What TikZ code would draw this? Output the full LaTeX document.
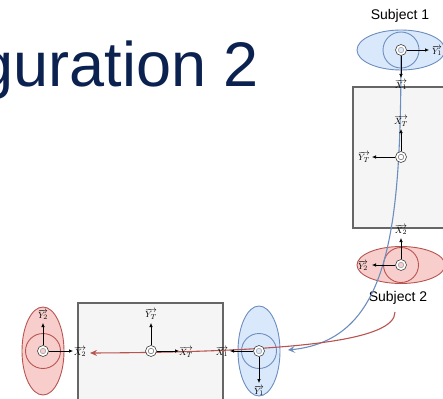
\documentclass[tikz,border=0pt]{standalone}
\usepackage{fontspec}
\newfontfamily\arialf{Liberation Sans}
\usetikzlibrary{shapes.geometric,arrows.meta}
\definecolor{bfill}{HTML}{DAE8FC}
\definecolor{bline}{HTML}{6C8EBF}
\definecolor{rfill}{HTML}{F8CECC}
\definecolor{rline}{HTML}{B85450}
\definecolor{boxfill}{HTML}{F5F5F5}
\definecolor{boxline}{HTML}{666666}
\definecolor{navy}{HTML}{0B2150}
\begin{document}
\begin{tikzpicture}[x=1pt,y=-1pt,
  boxst/.style={draw=boxline,fill=boxfill,line width=1.1pt},
  subjb/.style={ellipse,draw=bline,fill=bfill,line width=0.9pt,inner sep=0},
  subjr/.style={ellipse,draw=rline,fill=rfill,line width=0.9pt,inner sep=0},
  ringb/.style={circle,draw=bline,line width=0.9pt,inner sep=0},
  ringr/.style={circle,draw=rline,line width=0.9pt,inner sep=0},
  mk/.style={circle,draw=black!75,fill=white,minimum size=11pt,inner sep=0,line width=0.6pt},
  dotb/.style={circle,draw=black!40,fill=bfill,minimum size=5.5pt,inner sep=0,line width=0.5pt},
  dotr/.style={circle,draw=black!40,fill=rfill,minimum size=5.5pt,inner sep=0,line width=0.5pt},
  dotw/.style={circle,draw=black!60,fill=white,minimum size=5.5pt,inner sep=0,line width=0.5pt},
  ax/.style={-{Latex[length=4pt,width=3.5pt]},line width=0.6pt,black},
  lbl/.style={font=\fontsize{9.5}{10}\selectfont,inner sep=0},
  subjlbl/.style={font=\arialf\fontsize{14}{16}\selectfont,inner sep=0},
  bcurve/.style={draw=bline,line width=1.1pt,-{Stealth[length=7pt,width=7pt,inset=3pt]}},
  rcurve/.style={draw=rline,line width=1.1pt,-{Stealth[length=7pt,width=6pt]}}]
\useasboundingbox (0,0) rectangle (443,398);

% title
\node[font=\arialf\fontsize{63}{70}\selectfont,text=navy,anchor=base east,inner sep=0] (title) at (259,87) {guration 2};

% boxes
\draw[boxst] (353,87) rectangle (452,228);
\coordinate (boxA) at (353,87);
\draw[boxst] (78,303) rectangle (223,410);
\coordinate (boxB) at (78,303);

% Subject 1 (top, blue)
\node[subjlbl] (s1lbl) at (400,16) {Subject 1};
\node[subjb,minimum width=88pt,minimum height=40pt] (s1) at (401,50) {};
\node[ringb,minimum size=36pt] (s1ring) at (s1) {};
% Subject 2 (top, red)
\node[subjr,minimum width=88pt,minimum height=37pt] (s2) at (401,265) {};
\node[ringr,minimum size=35pt] (s2ring) at (s2) {};
\node[subjlbl] (s2lbl) at (398,298) {Subject 2};
% Subject 2 (bottom, red)
\node[subjr,minimum width=42pt,minimum height=88pt] (s3) at (43,351) {};
\node[ringr,minimum size=35pt] (s3ring) at (s3) {};
% Subject 1 (bottom, blue)
\node[subjb,minimum width=42pt,minimum height=90pt] (s4) at (259,351) {};
\node[ringb,minimum size=35pt] (s4ring) at (s4) {};

% curves
\coordinate (bEnd) at (288,350);
\draw[bcurve] (s1.center) .. controls (401,230) and (390,340) .. (bEnd);
\coordinate (rStart) at (395,312);
\coordinate (rEnd) at (90,353);
\draw[rcurve] (rStart) .. controls (395,340) and (300,352) .. (rEnd);

% markers
\node[mk] (m1) at (s1) {}; \node[dotb] (m1d) at (s1) {};
\node[mk] (m2) at (s2) {}; \node[dotr] (m2d) at (s2) {};
\node[mk] (m3) at (s3) {}; \node[dotr] (m3d) at (s3) {};
\node[mk] (m4) at (s4) {}; \node[dotb] (m4d) at (s4) {};
\node[mk] (t1) at (401,157) {}; \node[dotw] (t1d) at (t1) {};
\node[mk] (t2) at (151,351) {}; \node[dotw] (t2d) at (t2) {};

% arrow tips
\coordinate (s1y) at (429,50);
\coordinate (s1x) at (401,78);
\coordinate (t1x) at (401,129);
\coordinate (t1y) at (372,157);
\coordinate (s2x) at (401,238);
\coordinate (s2y) at (372,265);
\coordinate (s3y) at (43,323);
\coordinate (s3x) at (73,351);
\coordinate (t2y) at (151,323);
\coordinate (t2x) at (179,351);
\coordinate (s4x) at (230,351);
\coordinate (s4y) at (259,383);

\draw[ax] (m1) -- (s1y);
\draw[ax] (m1) -- (s1x);
\draw[ax] (t1) -- (t1x);
\draw[ax] (t1) -- (t1y);
\draw[ax] (m2) -- (s2x);
\draw[ax] (m2) -- (s2y);
\draw[ax] (m3) -- (s3y);
\draw[ax] (m3) -- (s3x);
\draw[ax] (t2) -- (t2y);
\draw[ax] (t2) -- (t2x);
\draw[ax] (m4) -- (s4x);
\draw[ax] (m4) -- (s4y);

% labels
\node[lbl] (l1y) at (437,51) {$\overrightarrow{Y_1}$};
\node[lbl] (l1x) at (401,85) {$\overrightarrow{X_1}$};
\node[lbl] (ltx) at (401,121) {$\overrightarrow{X_T}$};
\node[lbl] (lty) at (364,157) {$\overrightarrow{Y_T}$};
\node[lbl] (l2x) at (401,230) {$\overrightarrow{X_2}$};
\node[lbl] (l2y) at (363,266) {$\overrightarrow{Y_2}$};
\node[lbl] (l3y) at (43,315) {$\overrightarrow{Y_2}$};
\node[lbl] (l3x) at (80,352) {$\overrightarrow{X_2}$};
\node[lbl] (lty2) at (151,314) {$\overrightarrow{Y_T}$};
\node[lbl] (ltx2) at (186,352) {$\overrightarrow{X_T}$};
\node[lbl] (l4x) at (222,352) {$\overrightarrow{X_1}$};
\node[lbl] (l4y) at (259,391) {$\overrightarrow{Y_1}$};
\end{tikzpicture}
\end{document}
